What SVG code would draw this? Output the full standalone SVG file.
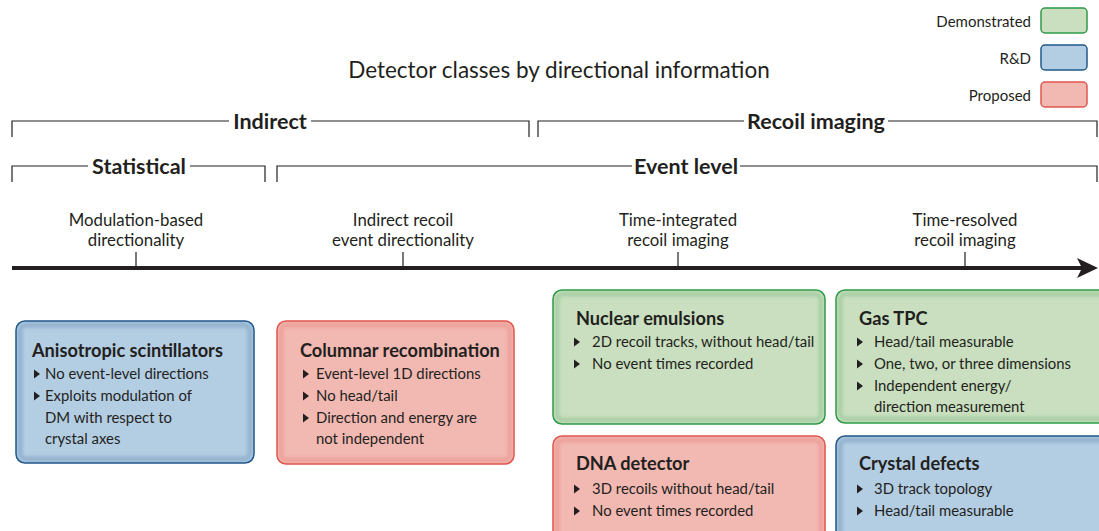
<svg xmlns="http://www.w3.org/2000/svg" width="1099" height="531" viewBox="0 0 1099 531">
<style>
text{font-family:Lato,"Liberation Sans",sans-serif;fill:#231f20}
.t{font-size:22.5px}
.h{font-size:21.5px;font-weight:bold}
.l{font-size:16.8px;text-anchor:middle}
.lg{font-size:15px;text-anchor:end}
.bt{font-size:18.2px;font-weight:bold}
.b{font-size:14.9px}
.br{fill:none;stroke:#231f20;stroke-width:1.2}
.g{fill:#c9dfbf;stroke:#2e9a48;stroke-width:1.5}
.bl{fill:#b3cde3;stroke:#22588a;stroke-width:1.5}
.r{fill:#f2b8b2;stroke:#e0574f;stroke-width:1.5}
.gi{fill:none;stroke:#2e9a48;stroke-opacity:.22;stroke-width:5;filter:url(#soft)}
.bi{fill:none;stroke:#22588a;stroke-opacity:.22;stroke-width:5;filter:url(#soft)}
.ri{fill:none;stroke:#e0574f;stroke-opacity:.22;stroke-width:5;filter:url(#soft)}
</style>
<defs>
<path id="tri" d="M0,-4.5 L6,0 L0,4.5Z" fill="#231f20"/>
<filter id="soft" x="-5%" y="-5%" width="110%" height="110%"><feGaussianBlur stdDeviation="1.8"/></filter>
</defs>
<rect width="1099" height="531" fill="#fff"/>
<g id="legend">
<text class="lg" x="1031" y="27">Demonstrated</text>
<rect class="g" x="1041" y="8" width="46" height="25" rx="4"/>
<text class="lg" x="1031" y="64">R&amp;D</text>
<rect class="bl" x="1041" y="45" width="46" height="25" rx="4"/>
<text class="lg" x="1031" y="101">Proposed</text>
<rect class="r" x="1041" y="82" width="46" height="25" rx="4"/>
</g>
<text class="t" x="559" y="78" text-anchor="middle">Detector classes by directional information</text>
<g id="brackets">
<path class="br" d="M12,137 V121 H229 M311,121 H529 V137"/>
<text class="h" x="270" y="129" text-anchor="middle">Indirect</text>
<path class="br" d="M538,137 V121 H744 M888,121 H1097 V137"/>
<text class="h" x="816" y="129" text-anchor="middle">Recoil imaging</text>
<path class="br" d="M12,182 V166 H88 M190,166 H265 V182"/>
<text class="h" x="139" y="174" text-anchor="middle">Statistical</text>
<path class="br" d="M277,182 V166 H632 M740,166 H1097 V182"/>
<text class="h" x="686" y="174" text-anchor="middle">Event level</text>
</g>
<g id="axis">
<line x1="12" y1="268" x2="1082" y2="268" stroke="#231f20" stroke-width="4"/>
<path d="M1098,268 L1077,258 L1082,268 L1077,278Z" fill="#231f20"/>
<path d="M136,252 V268 M403,252 V268 M678,252 V268 M965,252 V268" stroke="#231f20" stroke-width="1.2"/>
<text class="l" x="136" y="226">Modulation-based</text>
<text class="l" x="136" y="246">directionality</text>
<text class="l" x="403" y="226">Indirect recoil</text>
<text class="l" x="403" y="246">event directionality</text>
<text class="l" x="678" y="226">Time-integrated</text>
<text class="l" x="678" y="246">recoil imaging</text>
<text class="l" x="965" y="226">Time-resolved</text>
<text class="l" x="965" y="246">recoil imaging</text>
</g>
<g id="anisotropic">
<rect class="bl" x="16" y="321" width="238" height="142" rx="9"/>
<rect class="bi" x="20" y="325" width="230" height="134" rx="6"/>
<text class="bt" x="32" y="357">Anisotropic scintillators</text>
<use href="#tri" x="34" y="374"/><text class="b" x="45" y="379">No event-level directions</text>
<use href="#tri" x="34" y="396"/><text class="b" x="45" y="401">Exploits modulation of</text>
<text class="b" x="45" y="423">DM with respect to</text>
<text class="b" x="45" y="444">crystal axes</text>
</g>
<g id="columnar">
<rect class="r" x="277" y="321" width="237" height="143" rx="9"/>
<rect class="ri" x="281" y="325" width="229" height="135" rx="6"/>
<text class="bt" x="300" y="357">Columnar recombination</text>
<use href="#tri" x="303" y="374"/><text class="b" x="316" y="379">Event-level 1D directions</text>
<use href="#tri" x="303" y="396"/><text class="b" x="316" y="401">No head/tail</text>
<use href="#tri" x="303" y="418"/><text class="b" x="316" y="423">Direction and energy are</text>
<text class="b" x="316" y="444">not independent</text>
</g>
<g id="emulsions">
<rect class="g" x="553" y="290" width="272" height="134" rx="9"/>
<rect class="gi" x="557" y="294" width="264" height="126" rx="6"/>
<text class="bt" x="576" y="325">Nuclear emulsions</text>
<use href="#tri" x="574" y="342"/><text class="b" x="592" y="347">2D recoil tracks, without head/tail</text>
<use href="#tri" x="574" y="364"/><text class="b" x="592" y="369">No event times recorded</text>
</g>
<g id="dna">
<rect class="r" x="553" y="436" width="272" height="110" rx="9"/>
<rect class="ri" x="557" y="440" width="264" height="102" rx="6"/>
<text class="bt" x="576" y="470">DNA detector</text>
<use href="#tri" x="574" y="489"/><text class="b" x="592" y="494">3D recoils without head/tail</text>
<use href="#tri" x="574" y="511"/><text class="b" x="592" y="516">No event times recorded</text>
</g>
<g id="gastpc">
<rect class="g" x="836" y="290" width="280" height="133" rx="9"/>
<rect class="gi" x="840" y="294" width="272" height="125" rx="6"/>
<text class="bt" x="859" y="325">Gas TPC</text>
<use href="#tri" x="857" y="342"/><text class="b" x="874" y="347">Head/tail measurable</text>
<use href="#tri" x="857" y="364"/><text class="b" x="874" y="369">One, two, or three dimensions</text>
<use href="#tri" x="857" y="386"/><text class="b" x="874" y="391">Independent energy/</text>
<text class="b" x="874" y="412">direction measurement</text>
</g>
<g id="crystal">
<rect class="bl" x="836" y="436" width="280" height="110" rx="9"/>
<rect class="bi" x="840" y="440" width="272" height="102" rx="6"/>
<text class="bt" x="859" y="470">Crystal defects</text>
<use href="#tri" x="857" y="489"/><text class="b" x="874" y="494">3D track topology</text>
<use href="#tri" x="857" y="511"/><text class="b" x="874" y="516">Head/tail measurable</text>
</g>
<g id="connectors"/>
</svg>
